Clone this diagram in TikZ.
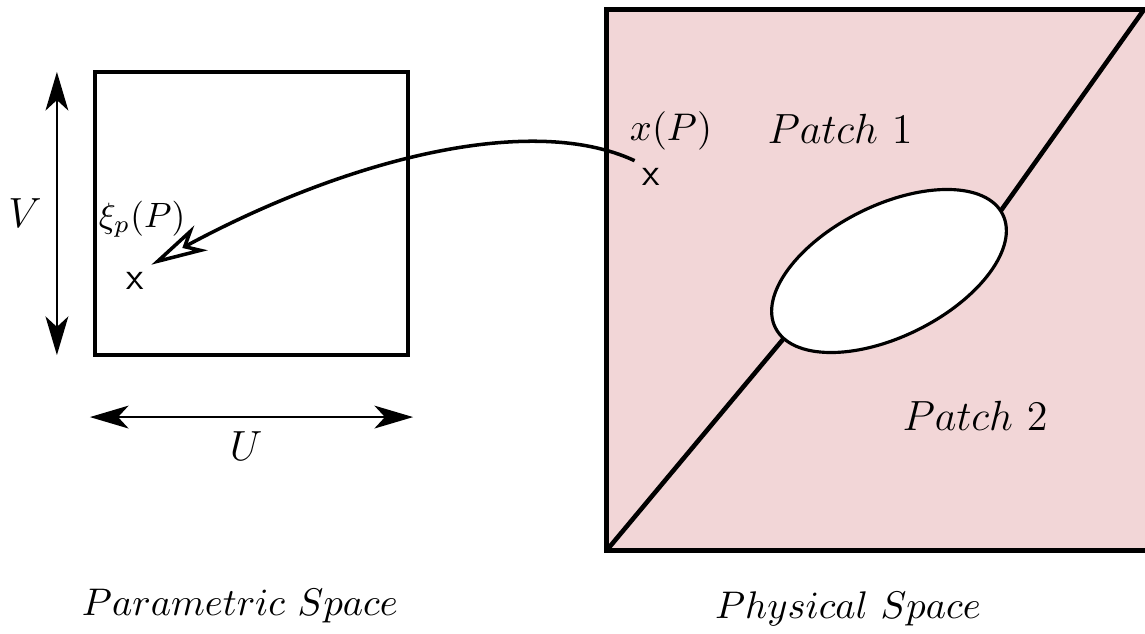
\documentclass[tikz,border=0pt]{standalone}
\usetikzlibrary{arrows.meta}
\definecolor{patchpink}{RGB}{242,214,215}

\begin{document}
\begin{tikzpicture}[
    x=0.01cm, y=-0.01cm,
    every node/.style={font=\fontsize{11}{13}\selectfont},
    frame/.style={draw, line width=1.35pt, inner sep=0pt, outer sep=0pt},
    cut/.style={line width=1.3pt},
    axislabel/.style={font=\fontsize{13}{15}\selectfont},
    patchlabel/.style={font=\fontsize{12}{14}\selectfont},
    marker/.style={font=\fontsize{11}{13}\selectfont\sffamily, inner sep=2pt},
    dimarrow/.style={{Stealth[length=11pt,width=6.5pt,inset=3pt]}-{Stealth[length=11pt,width=6.5pt,inset=3pt]}, line width=0.6pt},
    mapping/.style={-{Stealth[open,length=16pt,width=8pt,inset=4.5pt]}, line width=1pt}
]
\useasboundingbox (0,0) rectangle (1145,634);
% parametric space
\node[frame, minimum width=3.13cm, minimum height=2.83cm] (param) at (251.5,213.5) {};
\draw[dimarrow] ([shift={(-38,0)}]param.north west) -- ([shift={(-38,0)}]param.south west);
\draw[dimarrow] ([shift={(-5,62)}]param.south west) -- ([shift={(5,62)}]param.south east);
\node[axislabel] (vlabel) at (25,213) {$V$};
\node[axislabel] (ulabel) at (246,446) {$U$};
\node[marker] (xpar) at (135,281) {x};
\node[font=\fontsize{10}{12}\selectfont] (xilabel) at (142,219) {$\xi_p(P)$};
\node (paramname) at (240,606) {$Parametric\ Space$};
% physical space
\node[frame, fill=patchpink, minimum width=5.43cm, minimum height=5.40cm] (phys) at (878.5,280) {};
\coordinate (cutlow) at (805,313);
\coordinate (cuthigh) at (985,233);
\draw[cut] (phys.south west) -- (cutlow);
\draw[cut] (cuthigh) -- (1143,11);
\draw[line width=0.9pt, fill=white, rotate around={26.5:(889,271)}] (889,271) ellipse [x radius=127, y radius=65.5];
\node[marker] (xphys) at (651,177) {x};
\node (xplabel) at (671,131) {$x(P)$};
\node[patchlabel] (patchone) at (840,129) {$Patch\ 1$};
\node[patchlabel] (patchtwo) at (975,416) {$Patch\ 2$};
\node (physname) at (848,609) {$Physical\ Space$};
% map back to the parametric space
\draw[mapping] (xphys.north west) .. controls (530,112) and (345,160) .. (xpar.north east);
\end{tikzpicture}
\end{document}
